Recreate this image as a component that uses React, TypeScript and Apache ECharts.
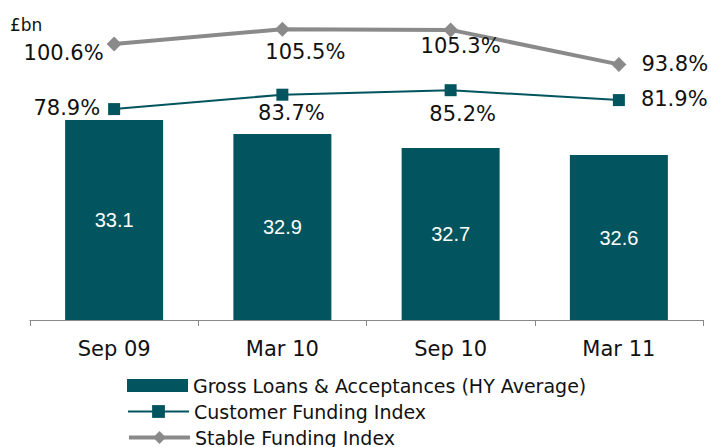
import React, { useEffect, useRef } from "react";
import * as echarts from "echarts";

const categories = ["Sep 09", "Mar 10", "Sep 10", "Mar 11"];
const grossLoans = [33.1, 32.9, 32.7, 32.6];
const customerFunding = [78.9, 83.7, 85.2, 81.9];
const stableFunding = [100.6, 105.5, 105.3, 93.8];
const seriesNames = [
  "Gross Loans & Acceptances (HY Average)",
  "Customer Funding Index",
  "Stable Funding Index",
];
const unitLabel = "£bn";

const TEAL = "#02555E";
const GREY = "#8A8A8A";
const FONT = "DejaVu Sans";

export default function App() {
  const ref = useRef<HTMLDivElement>(null);
  useEffect(() => {
    if (!ref.current) return;
    const chart = echarts.init(ref.current, null, { renderer: "svg" });
    const pct = (p: any) => p.value.toFixed(1) + "%";
    const stableLabels = [
      { position: "left", distance: 3, offset: [0, 9] },
      { position: "inside", offset: [23, 23] },
      { position: "inside", offset: [10, 16] },
      { position: "right", distance: 15, offset: [0, 0] },
    ];
    const customerLabels = [
      { position: "left", distance: 8, offset: [0, -1] },
      { position: "inside", offset: [9, 18] },
      { position: "inside", offset: [12, 24] },
      { position: "right", distance: 16, offset: [0, -1] },
    ];
    const legendBase = {
      orient: "vertical",
      left: 127,
      padding: 0,
      itemWidth: 61,
      itemHeight: 16,
      textStyle: { fontSize: 19, fontFamily: FONT, color: "#111", lineHeight: 18 },
    };
    chart.setOption({
      animation: false,
      grid: { left: 30, right: 8, top: 20, bottom: 127 },
      graphic: [
        {
          type: "text",
          left: 10,
          top: 16,
          style: { text: unitLabel, fontSize: 17, fontFamily: FONT, fill: "#111" },
        },
      ],
      legend: [
        { ...legendBase, top: 376, data: [{ name: seriesNames[0], icon: "path://M0 0h61v13H0z" }] },
        {
          ...legendBase,
          top: 402,
          lineStyle: { width: 2, color: TEAL },
          data: [{ name: seriesNames[1] }],
        },
        {
          ...legendBase,
          top: 428,
          lineStyle: { width: 4, color: GREY },
          data: [{ name: seriesNames[2] }],
        },
      ],
      xAxis: {
        type: "category",
        data: categories,
        axisLine: { lineStyle: { color: "#888", width: 1 } },
        axisTick: { show: true, length: 6, lineStyle: { color: "#888" } },
        axisLabel: { fontSize: 21, fontFamily: FONT, color: "#111", margin: 18 },
      },
      yAxis: [
        { type: "value", min: 30.243, max: 34.529, show: false, splitLine: { show: false } },
        { type: "value", min: 8.6, max: 108.6, show: false, splitLine: { show: false } },
      ],
      series: [
        {
          name: seriesNames[0],
          type: "bar",
          data: grossLoans,
          barWidth: 98,
          itemStyle: { color: TEAL },
          label: {
            show: true,
            position: "inside",
            color: "#fff",
            fontSize: 20,
            fontFamily: "Liberation Sans",
            formatter: (p: any) => p.value.toFixed(1),
          },
        },
        {
          name: seriesNames[1],
          type: "line",
          yAxisIndex: 1,
          data: customerFunding.map((v, i) => ({
            value: v,
            label: customerLabels[i],
          })),
          symbol: "rect",
          symbolSize: 12,
          lineStyle: { color: TEAL, width: 2 },
          itemStyle: { color: TEAL },
          label: { show: true, fontSize: 21, fontFamily: FONT, color: "#111", formatter: pct },
        },
        {
          name: seriesNames[2],
          type: "line",
          yAxisIndex: 1,
          data: stableFunding.map((v, i) => ({
            value: v,
            label: stableLabels[i],
          })),
          symbol: "diamond",
          symbolSize: 15,
          lineStyle: { color: GREY, width: 4 },
          itemStyle: { color: GREY },
          label: { show: true, fontSize: 21, fontFamily: FONT, color: "#111", formatter: pct },
        },
      ],
    });
    return () => chart.dispose();
  }, []);
  return <div ref={ref} style={{ width: 711, height: 447, position: "absolute", left: 0, top: 0 }} />;
}
